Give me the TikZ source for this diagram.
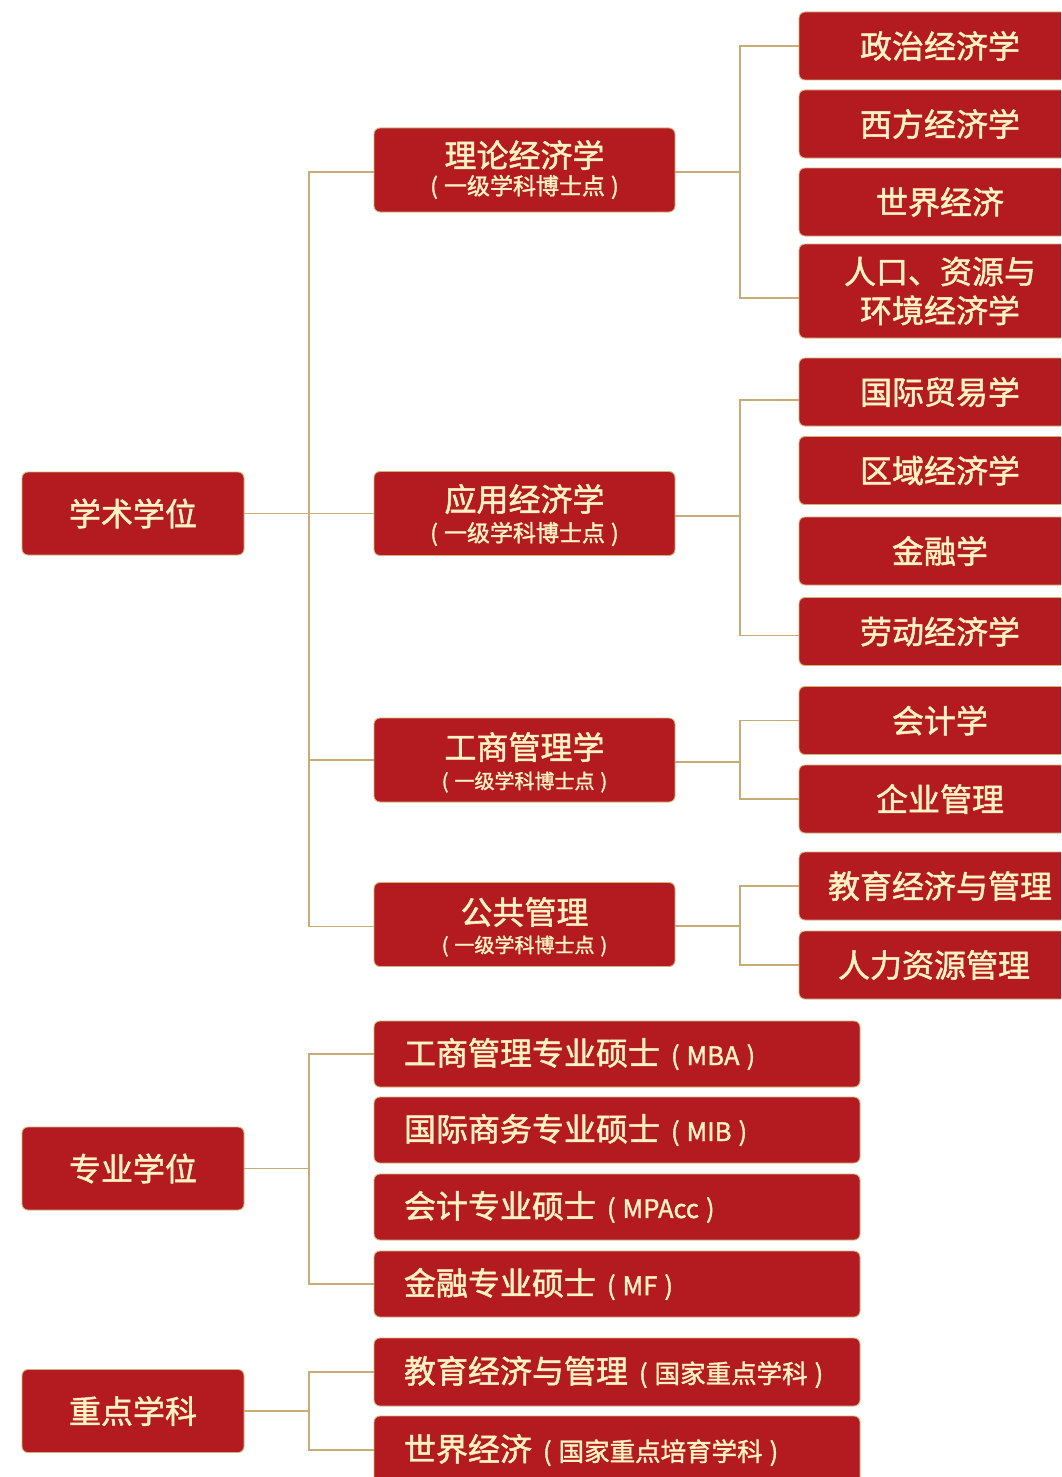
\documentclass[tikz,border=0pt]{standalone}
\usepackage{fontspec}
\setmainfont{Noto Sans CJK SC}[FakeBold=1.5]
\definecolor{boxred}{RGB}{179,27,32}
\definecolor{boxedge}{RGB}{208,178,122}
\definecolor{txtc}{RGB}{255,242,198}
\definecolor{linec}{RGB}{200,172,118}
\tikzset{
  basebox/.style={draw=boxedge, line width=0.9pt, fill=boxred, rounded corners=6pt, text=txtc, inner sep=0pt},
  lvone/.style={basebox, minimum width=222pt, minimum height=83pt, font=\fontsize{32}{36}\selectfont},
  lvtwo/.style={basebox, minimum width=301pt, minimum height=84pt},
  lvthree/.style={basebox, minimum width=282pt, minimum height=68pt, align=center, font=\fontsize{32}{39}\selectfont},
  widebox/.style={basebox, minimum height=66pt, text width=426pt, inner xsep=30pt, align=left, font=\fontsize{32}{36}\selectfont},
  maintext/.style={text=txtc, inner sep=0pt, font=\fontsize{32}{36}\selectfont},
  subtext/.style={text=txtc, inner sep=0pt, font=\fontsize{23}{26}\selectfont},
  subsmall/.style={text=txtc, inner sep=0pt, font=\fontsize{20}{23}\selectfont},
  conn/.style={draw=linec, line width=1.6pt},
}
\newcommand{\smalltxt}[1]{\hspace{11pt}{\fontsize{25.5}{28}\selectfont (\hspace{7pt}#1\hspace{7pt})}}
\newcommand{\subparen}[2]{(\hspace{#1}#2\hspace{#1})}
\begin{document}
\begin{tikzpicture}[x=1pt,y=-1pt]
\useasboundingbox (0,0) rectangle (1061,1477);
\clip (0,0) rectangle (1061,1477);
\fill[white] (0,0) rectangle (1061,1477);

% level 1
\node[lvone] (acad) at (133,513.5) {学术学位};
\node[lvone] (prof) at (133,1168.5) {专业学位};
\node[lvone] (key) at (133,1411) {重点学科};

% level 2
\node[lvtwo] (l1) at (524.5,170) {};
\node[maintext] (l1m) at ([yshift=15pt]l1.center) {理论经济学};
\node[subtext] (l1s) at ([yshift=-17pt]l1.center) {\subparen{6pt}{一级学科博士点}};
\node[lvtwo] (l2) at (524.5,513.5) {};
\node[maintext] (l2m) at ([yshift=14.5pt]l2.center) {应用经济学};
\node[subtext] (l2s) at ([yshift=-20.5pt]l2.center) {\subparen{6pt}{一级学科博士点}};
\node[lvtwo] (l3) at (524.5,760) {};
\node[maintext] (l3m) at ([yshift=13pt]l3.center) {工商管理学};
\node[subsmall] (l3s) at ([yshift=-22pt]l3.center) {\subparen{6pt}{一级学科博士点}};
\node[lvtwo] (l4) at (524.5,924.5) {};
\node[maintext] (l4m) at ([yshift=12.5pt]l4.center) {公共管理};
\node[subsmall] (l4s) at ([yshift=-21.5pt]l4.center) {\subparen{6pt}{一级学科博士点}};

% level 3
\node[lvthree] (r1) at (940,46) {政治经济学};
\node[lvthree] (r2) at (940,124) {西方经济学};
\node[lvthree] (r3) at (940,202) {世界经济};
\node[lvthree, minimum height=94pt] (r4) at (940,291) {人口、资源与\\环境经济学};
\node[lvthree] (r5) at (940,392) {国际贸易学};
\node[lvthree] (r6) at (940,470.5) {区域经济学};
\node[lvthree] (r7) at (940,551) {金融学};
\node[lvthree] (r8) at (940,631.5) {劳动经济学};
\node[lvthree] (r9) at (940,720.5) {会计学};
\node[lvthree] (r10) at (940,799) {企业管理};
\node[lvthree] (r11) at (940,886) {教育经济与管理};
\node[lvthree] (r12) at (940,965) {};
\node[maintext] (r12t) at ([xshift=-6pt]r12.center) {人力资源管理};

% professional
\node[widebox] (p1) at (617,1054) {\mbox{工商管理专业硕士\smalltxt{MBA}}};
\node[widebox] (p2) at (617,1130) {\mbox{国际商务专业硕士\smalltxt{MIB}}};
\node[widebox] (p3) at (617,1207) {\mbox{会计专业硕士\smalltxt{MPAcc}}};
\node[widebox] (p4) at (617,1284) {\mbox{金融专业硕士\smalltxt{MF}}};

% key disciplines
\node[widebox, minimum height=68pt] (k1) at (617,1372) {\mbox{教育经济与管理\smalltxt{国家重点学科}}};
\node[widebox, minimum height=68pt] (k2) at (617,1450) {\mbox{世界经济\smalltxt{国家重点培育学科}}};

% trunk coordinates
\coordinate (ta) at (309,513.5);
\coordinate (tp) at (309,1168.5);
\coordinate (tk) at (309,1411);
\coordinate (b1) at (740,172);
\coordinate (b2) at (740,516);
\coordinate (b3) at (740,762);
\coordinate (b4) at (740,926);

\draw[conn] (acad.east) -- (ta);
\draw[conn] (ta) |- ([yshift=-2pt]l1.west);
\draw[conn] (ta) |- (l2.west);
\draw[conn] (ta) |- (l3.west);
\draw[conn] (ta) |- ([yshift=-2pt]l4.west);

\draw[conn] (b1) -- (l1.east |- b1);
\draw[conn] (b1) |- (r1.west);
\draw[conn] (b1) |- ([yshift=-7pt]r4.west);

\draw[conn] (b2) -- (l2.east |- b2);
\draw[conn] (b2) |- ([yshift=-8pt]r5.west);
\draw[conn] (b2) |- ([yshift=-4pt]r8.west);

\draw[conn] (b3) -- (l3.east |- b3);
\draw[conn] (b3) |- (r9.west);
\draw[conn] (b3) |- (r10.west);

\draw[conn] (b4) -- (l4.east |- b4);
\draw[conn] (b4) |- (r11.west);
\draw[conn] (b4) |- (r12.west);

\draw[conn] (prof.east) -- (tp);
\draw[conn] (tp) |- (p1.west);
\draw[conn] (tp) |- (p4.west);

\draw[conn] (key.east) -- (tk);
\draw[conn] (tk) |- (k1.west);
\draw[conn] (tk) |- (k2.west);
\end{tikzpicture}
\end{document}
